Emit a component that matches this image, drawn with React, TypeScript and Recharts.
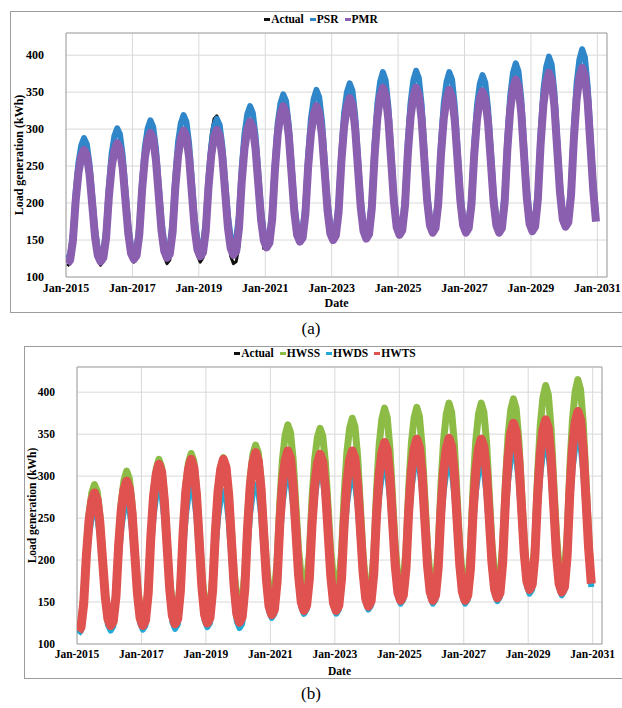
import {
  LineChart,
  Line,
  XAxis,
  YAxis,
  CartesianGrid,
  ReferenceArea,
} from "recharts";

const SERIF = '"Liberation Serif", "Times New Roman", serif';

const YEARS = [
  2015, 2016, 2017, 2018, 2019, 2020, 2021, 2022, 2023, 2024, 2025, 2026, 2027,
  2028, 2029, 2030,
];
const MONTHS = ["Jan", "Feb", "Mar", "Apr", "May", "Jun", "Jul", "Aug", "Sep", "Oct", "Nov", "Dec"];
const X_TICKS = [2015, 2017, 2019, 2021, 2023, 2025, 2027, 2029, 2031];
const Y_TICKS = [100, 150, 200, 250, 300, 350, 400];
const X_MAX = 2031.29;
const Y_MAX = 430;

/* ---------- monthly values (kWh), one row per year, Jan..Dec ---------- */
const actual = [
  [115, 119, 144, 196, 233, 253, 262, 255, 230, 189, 148, 123],
  [116, 121, 147, 202, 241, 263, 272, 264, 239, 196, 153, 128],
  [120, 125, 155, 215, 258, 283, 293, 284, 255, 206, 157, 127],
  [118, 123, 154, 217, 262, 287, 298, 289, 259, 209, 159, 129],
  [120, 126, 170, 249, 294, 314, 318, 308, 274, 218, 162, 128],
  [118, 121, 141, 200, 258, 293, 312, 303, 272, 220, 169, 137],
];

const psr = [
  [125, 130, 158, 215, 255, 278, 288, 280, 253, 209, 165, 138],
  [130, 135, 164, 224, 267, 291, 301, 293, 264, 217, 170, 141],
  [133, 138, 169, 231, 276, 301, 312, 303, 274, 225, 176, 146],
  [137, 142, 173, 237, 283, 308, 319, 310, 280, 230, 179, 149],
  [140, 145, 175, 236, 279, 304, 314, 306, 277, 230, 183, 154],
  [146, 152, 183, 248, 294, 320, 331, 322, 291, 241, 190, 159],
  [150, 156, 189, 258, 308, 335, 347, 338, 305, 253, 200, 168],
  [158, 164, 197, 265, 314, 341, 353, 343, 311, 257, 203, 170],
  [160, 166, 200, 271, 322, 350, 362, 352, 318, 262, 205, 171],
  [161, 167, 204, 280, 334, 364, 377, 366, 330, 271, 212, 176],
  [165, 171, 208, 283, 336, 366, 379, 369, 333, 274, 214, 179],
  [168, 174, 210, 283, 335, 364, 377, 367, 331, 273, 214, 179],
  [168, 174, 209, 281, 332, 361, 373, 363, 328, 272, 215, 180],
  [170, 177, 214, 290, 345, 376, 389, 378, 341, 281, 220, 183],
  [172, 179, 217, 296, 353, 384, 398, 387, 349, 287, 225, 187],
  [176, 183, 222, 304, 362, 394, 408, 397, 358, 294, 230, 184],
];

const pmr = [
  [118, 123, 149, 203, 241, 263, 272, 265, 239, 197, 154, 129],
  [121, 126, 153, 209, 249, 271, 281, 273, 247, 203, 159, 132],
  [124, 129, 158, 218, 261, 285, 295, 287, 258, 211, 163, 135],
  [126, 131, 160, 221, 264, 288, 298, 290, 261, 213, 165, 137],
  [128, 133, 162, 222, 265, 289, 299, 291, 262, 215, 167, 139],
  [130, 135, 166, 229, 274, 299, 310, 302, 273, 225, 177, 149],
  [140, 146, 178, 245, 293, 320, 331, 322, 291, 240, 188, 157],
  [148, 153, 185, 249, 294, 320, 331, 322, 291, 241, 190, 159],
  [150, 156, 188, 256, 304, 330, 342, 333, 300, 247, 194, 162],
  [152, 158, 193, 264, 315, 344, 356, 346, 312, 257, 201, 167],
  [157, 163, 197, 266, 316, 344, 356, 346, 313, 258, 203, 170],
  [160, 166, 199, 266, 314, 341, 353, 343, 311, 257, 203, 170],
  [160, 166, 198, 265, 313, 340, 351, 341, 309, 256, 202, 170],
  [160, 166, 201, 274, 326, 355, 367, 357, 322, 265, 207, 172],
  [162, 168, 205, 280, 333, 363, 376, 366, 330, 272, 214, 178],
  [168, 174, 211, 286, 340, 370, 383, 372, 337, 278, 218, 175],
];

const hwss = [
  [122, 127, 156, 214, 256, 280, 290, 282, 254, 209, 164, 136],
  [128, 133, 164, 226, 270, 295, 306, 297, 268, 219, 170, 141],
  [132, 138, 170, 235, 282, 309, 320, 311, 280, 229, 178, 147],
  [138, 144, 176, 242, 289, 316, 327, 318, 286, 235, 183, 151],
  [142, 147, 178, 241, 286, 311, 322, 313, 284, 235, 186, 156],
  [147, 153, 185, 252, 299, 326, 337, 328, 297, 247, 197, 166],
  [157, 163, 198, 269, 320, 349, 361, 352, 319, 266, 212, 180],
  [170, 176, 207, 273, 320, 346, 357, 348, 316, 263, 210, 178],
  [169, 175, 209, 279, 329, 357, 369, 359, 323, 265, 207, 171],
  [161, 168, 205, 282, 337, 368, 381, 370, 334, 275, 216, 180],
  [169, 175, 212, 286, 339, 369, 382, 371, 335, 276, 216, 180],
  [169, 176, 213, 289, 343, 374, 387, 376, 339, 278, 217, 180],
  [169, 176, 213, 289, 343, 374, 387, 376, 340, 280, 220, 184],
  [173, 180, 217, 293, 348, 379, 392, 381, 344, 284, 223, 186],
  [175, 182, 222, 303, 361, 394, 408, 397, 358, 295, 231, 192],
  [181, 188, 228, 310, 368, 401, 415, 403, 363, 297, 230, 172],
];

const hwds = [
  [112, 116, 142, 193, 230, 251, 260, 253, 228, 188, 148, 123],
  [116, 121, 146, 200, 238, 259, 268, 261, 235, 193, 150, 125],
  [117, 122, 151, 210, 252, 276, 286, 278, 249, 202, 155, 126],
  [118, 123, 152, 210, 252, 276, 286, 278, 250, 203, 157, 128],
  [120, 125, 152, 209, 250, 272, 282, 274, 246, 201, 155, 127],
  [119, 124, 153, 213, 256, 280, 290, 282, 255, 211, 166, 139],
  [131, 136, 165, 224, 266, 290, 300, 292, 264, 218, 172, 144],
  [136, 141, 170, 230, 272, 296, 306, 298, 269, 221, 173, 145],
  [136, 141, 169, 226, 266, 289, 299, 291, 264, 220, 176, 149],
  [141, 146, 175, 234, 276, 300, 310, 302, 274, 229, 184, 156],
  [148, 153, 182, 242, 284, 308, 318, 310, 281, 233, 185, 157],
  [148, 153, 181, 239, 281, 304, 314, 306, 278, 231, 185, 156],
  [148, 153, 181, 239, 281, 304, 314, 306, 278, 233, 187, 159],
  [151, 156, 187, 249, 294, 319, 330, 322, 293, 245, 197, 169],
  [160, 165, 195, 257, 302, 326, 337, 328, 298, 248, 197, 167],
  [158, 164, 195, 261, 308, 334, 345, 336, 305, 255, 205, 168],
];

const hwts = [
  [115, 120, 148, 206, 247, 270, 280, 272, 245, 201, 157, 130],
  [122, 127, 156, 217, 260, 284, 294, 285, 256, 208, 160, 131],
  [122, 128, 160, 228, 276, 302, 314, 305, 272, 219, 166, 134],
  [124, 130, 163, 232, 281, 308, 320, 310, 277, 223, 168, 135],
  [125, 131, 164, 232, 281, 308, 320, 310, 277, 223, 169, 136],
  [126, 132, 166, 237, 288, 316, 328, 318, 286, 232, 178, 145],
  [135, 141, 174, 242, 291, 318, 330, 321, 288, 235, 182, 150],
  [140, 146, 177, 242, 289, 315, 326, 317, 285, 233, 181, 149],
  [140, 146, 178, 245, 292, 319, 330, 321, 289, 238, 186, 154],
  [145, 151, 184, 252, 301, 328, 340, 331, 299, 246, 193, 161],
  [152, 158, 190, 258, 306, 332, 344, 334, 302, 248, 194, 162],
  [152, 158, 191, 258, 306, 333, 345, 335, 303, 249, 195, 162],
  [152, 158, 190, 258, 306, 332, 344, 335, 302, 250, 197, 165],
  [155, 161, 197, 269, 321, 351, 363, 353, 319, 264, 209, 175],
  [165, 171, 205, 276, 327, 355, 367, 357, 322, 265, 207, 172],
  [162, 168, 205, 280, 334, 364, 377, 367, 331, 273, 214, 172],
];

/* ---------- tables ---------- */
// x position of each monthly value, as a fractional year (mid-month)
const monthPos = YEARS.flatMap((y) => MONTHS.map((_, m) => y + (m + 0.5) / 12));

const actualFlat = actual.flat();
const psrFlat = psr.flat();
const pmrFlat = pmr.flat();
const hwssFlat = hwss.flat();
const hwdsFlat = hwds.flat();
const hwtsFlat = hwts.flat();

const dataA = monthPos.map((t, i) => ({
  t,
  actual: actualFlat[i],
  psr: psrFlat[i],
  pmr: pmrFlat[i],
}));

const dataB = monthPos.map((t, i) => ({
  t,
  actual: actualFlat[i],
  hwss: hwssFlat[i],
  hwds: hwdsFlat[i],
  hwts: hwtsFlat[i],
}));

const SERIES_A = [
  { key: "actual", name: "Actual", color: "#111111", width: 3 },
  { key: "psr", name: "PSR", color: "#2f86c9", width: 6 },
  { key: "pmr", name: "PMR", color: "#8b5fb0", width: 8 },
];

const SERIES_B = [
  { key: "actual", name: "Actual", color: "#111111", width: 1.5 },
  { key: "hwss", name: "HWSS", color: "#8cbc45", width: 7 },
  { key: "hwds", name: "HWDS", color: "#22a9d4", width: 6 },
  { key: "hwts", name: "HWTS", color: "#e0524f", width: 9 },
];

function LegendRow({ items, top, center, fontSize }: any) {
  return (
    <div
      style={{
        position: "absolute",
        top,
        left: center - 150,
        width: 300,
        display: "flex",
        justifyContent: "center",
        gap: 6,
        fontFamily: SERIF,
        fontWeight: 700,
        fontSize,
        lineHeight: "14px",
        color: "#000",
      }}
    >
      {items.map((it: any) => (
        <span key={it.key} style={{ display: "inline-flex", alignItems: "center" }}>
          <span
            style={{
              display: "inline-block",
              width: 6,
              height: 3,
              background: it.color,
              marginRight: 1,
            }}
          />
          {it.name}
        </span>
      ))}
    </div>
  );
}

function Panel({ top, height, margin, yWidth, fontSize, yLabelX, xAxisH, data, series }: any) {
  const tickStyle = { fill: "#000", fontSize, fontWeight: 700, fontFamily: SERIF };
  const titleStyle = { fill: "#000", fontSize, fontWeight: 700, fontFamily: SERIF };
  return (
    <div style={{ position: "absolute", left: 0, top }}>
      <LineChart width={622} height={height} data={data} margin={margin}>
        <CartesianGrid stroke="#d9d9d9" />
        <XAxis
          dataKey="t"
          type="number"
          domain={[2015, X_MAX]}
          ticks={X_TICKS}
          interval={0}
          allowDataOverflow
          tickFormatter={(v) => `Jan-${v}`}
          tick={tickStyle}
          tickLine={false}
          tickSize={0}
          tickMargin={6}
          axisLine={false}
          height={xAxisH}
          label={{ value: "Date", position: "insideBottom", offset: 0, style: titleStyle }}
        />
        <YAxis
          type="number"
          domain={[100, Y_MAX]}
          ticks={Y_TICKS}
          interval={0}
          allowDataOverflow
          width={yWidth}
          tick={tickStyle}
          tickLine={false}
          tickSize={0}
          tickMargin={22}
          axisLine={false}
          label={{
            value: "Load generation (kWh)",
            angle: -90,
            position: "insideLeft",
            offset: yLabelX,
            style: { ...titleStyle, textAnchor: "middle" },
          }}
        />
        <ReferenceArea
          x1={2015}
          x2={X_MAX}
          y1={100}
          y2={Y_MAX}
          fill="none"
          stroke="#a6a6a6"
          strokeWidth={1}
          ifOverflow="visible"
        />
        {series.map((s: any) => (
          <Line
            key={s.key}
            dataKey={s.key}
            name={s.name}
            type="linear"
            stroke={s.color}
            strokeWidth={s.width}
            strokeLinejoin="round"
            dot={false}
            activeDot={false}
            isAnimationActive={false}
          />
        ))}
      </LineChart>
    </div>
  );
}

const frameStyle = {
  position: "absolute" as const,
  border: "1px solid #9c9c9c",
  borderRight: "none",
  boxSizing: "border-box" as const,
};

const captionStyle = {
  position: "absolute" as const,
  left: 0,
  width: 622,
  textAlign: "center" as const,
  fontFamily: SERIF,
  fontSize: 17,
  lineHeight: "20px",
  color: "#000",
};

export default function App() {
  return (
    <div
      style={{
        position: "absolute",
        left: 0,
        top: 0,
        width: 622,
        height: 708,
        overflow: "hidden",
        background: "#fff",
      }}
    >
      {/* (a) */}
      <div style={{ ...frameStyle, left: 10, top: 11, width: 612, height: 302 }} />
      <Panel
        top={0}
        height={320}
        margin={{ top: 33, right: 15, left: 0, bottom: 13 }}
        yWidth={66}
        fontSize={12}
        yLabelX={19}
        xAxisH={30}
        data={dataA}
        series={SERIES_A}
      />
      <LegendRow items={SERIES_A} top={12} center={321} fontSize={11.5} />
      <div style={{ ...captionStyle, top: 319 }}>(a)</div>

      {/* (b) */}
      <div style={{ ...frameStyle, left: 24, top: 346, width: 598, height: 333 }} />
      <Panel
        top={340}
        height={340}
        margin={{ top: 27, right: 20, left: 0, bottom: 5 }}
        yWidth={77}
        fontSize={11.5}
        yLabelX={32}
        xAxisH={31}
        data={dataB}
        series={SERIES_B}
      />
      <LegendRow items={SERIES_B} top={346} center={325} fontSize={11.5} />
      <div style={{ ...captionStyle, top: 684 }}>(b)</div>
    </div>
  );
}
